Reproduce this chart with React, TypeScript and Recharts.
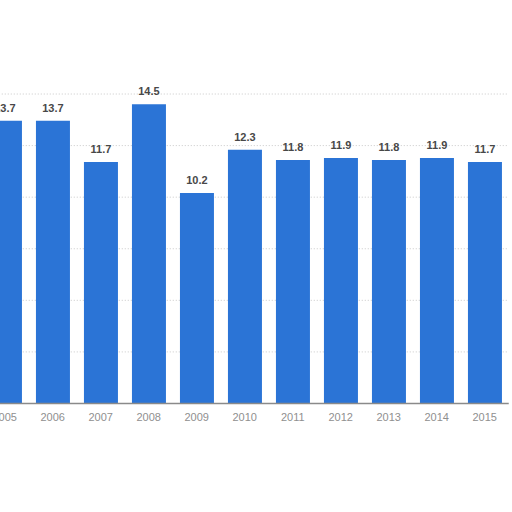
import React from "react";
import { BarChart, Bar, XAxis, YAxis, CartesianGrid, LabelList } from "recharts";

const years = ["2005", "2006", "2007", "2008", "2009", "2010", "2011", "2012", "2013", "2014", "2015"];
const values = [13.7, 13.7, 11.7, 14.5, 10.2, 12.3, 11.8, 11.9, 11.8, 11.9, 11.7];
const yTicks = [0, 2.5, 5, 7.5, 10, 12.5, 15];

const data = years.map((year, i) => ({ year, value: values[i] }));

export default function App() {
  return (
    <div style={{ position: "absolute", left: 0, top: 0, width: 512, height: 512, overflow: "hidden", background: "#fff" }}>
      <div style={{ position: "relative", left: -30, top: 0 }}>
        <BarChart
          width={549}
          height={438.5}
          data={data}
          margin={{ top: 94, right: 10.25, bottom: 5, left: 10.75 }}
          barCategoryGap="15%"
        >
          <CartesianGrid vertical={false} stroke="#c8c8c8" strokeDasharray="1 2" />
          <YAxis hide domain={[0, 15]} ticks={yTicks} />
          <XAxis
            dataKey="year"
            height={30}
            tickLine={false}
            axisLine={{ stroke: "#8a8a8a", strokeWidth: 1.5 }}
            tick={{ fill: "#8f8f8f", fontSize: 11, dy: 2, fontFamily: "Liberation Sans, Arial, sans-serif" }}
            interval={0}
          />
          <Bar dataKey="value" fill="#2b74d6" isAnimationActive={false}>
            <LabelList
              dataKey="value"
              position="top"
              offset={9}
              style={{ fill: "#484848", fontSize: 11, fontWeight: "bold", fontFamily: "Liberation Sans, Arial, sans-serif" }}
            />
          </Bar>
        </BarChart>
      </div>
    </div>
  );
}
